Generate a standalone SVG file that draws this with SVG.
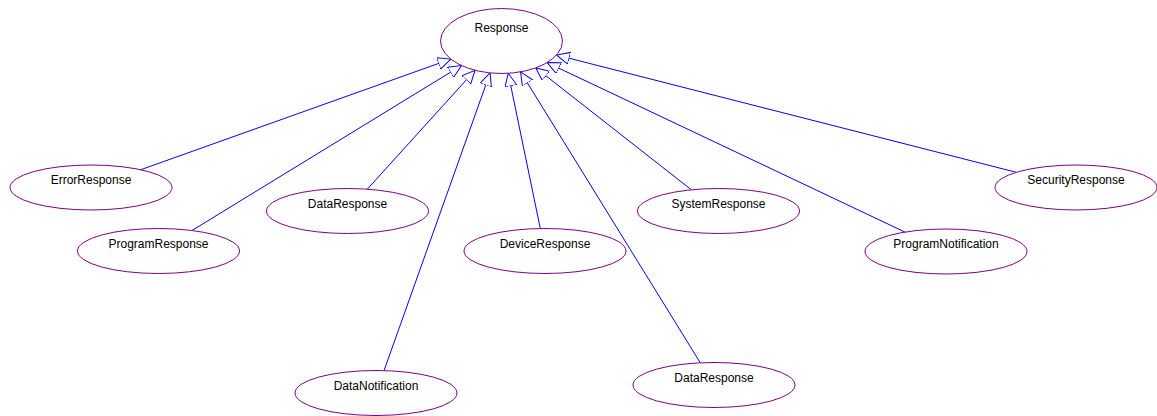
<svg xmlns="http://www.w3.org/2000/svg" width="1157" height="416" viewBox="0 0 1157 416">
  <style>
    .node ellipse { fill: #ffffff; stroke: #800080; stroke-width: 1; }
    .node text { font-family: "Liberation Sans", Arial, sans-serif; font-size: 12px; fill: #000000; text-anchor: middle; }
    .edges line { stroke: #0000ff; stroke-width: 1; marker-end: url(#inherit); }
  </style>
  <defs>
    <!-- hollow triangle: generalisation arrowhead -->
    <marker id="inherit" markerUnits="userSpaceOnUse" markerWidth="16" markerHeight="14" refX="13" refY="6" orient="auto">
      <path d="M0,0 L13,6 L0,12 Z" fill="#ffffff" stroke="#0000ff" stroke-width="1"/>
    </marker>
  </defs>

  <rect width="1157" height="416" fill="#ffffff"/>

  <g id="edges" class="edges">
    <line x1="140.8" y1="169.7" x2="450.8" y2="59.1"/>
    <line x1="192" y1="230.5" x2="461.5" y2="65.5"/>
    <line x1="367.3" y1="189.2" x2="475" y2="70.3"/>
    <line x1="384" y1="370.6" x2="490.1" y2="72.9"/>
    <line x1="540.3" y1="228.5" x2="508.2" y2="73.3"/>
    <line x1="700.3" y1="362.8" x2="520.6" y2="71.9"/>
    <line x1="691.4" y1="189.8" x2="535.8" y2="67.9"/>
    <line x1="905" y1="232.1" x2="547.1" y2="62.6"/>
    <line x1="1016.3" y1="172.3" x2="556.5" y2="55"/>
  </g>

  <g id="response" class="node">
    <ellipse cx="501.5" cy="41" rx="61" ry="32.5"/>
    <text x="501.5" y="31.5">Response</text>
  </g>
  <g id="errorResponse" class="node">
    <ellipse cx="91" cy="187.5" rx="81" ry="22.5"/>
    <text x="91" y="184">ErrorResponse</text>
  </g>
  <g id="programResponse" class="node">
    <ellipse cx="158.5" cy="251" rx="81" ry="22.5"/>
    <text x="158.5" y="247.5">ProgramResponse</text>
  </g>
  <g id="dataResponse1" class="node">
    <ellipse cx="347.5" cy="211" rx="81" ry="22.5"/>
    <text x="347.5" y="207.5">DataResponse</text>
  </g>
  <g id="dataNotification" class="node">
    <ellipse cx="376" cy="393" rx="81" ry="22.5"/>
    <text x="376" y="389.5">DataNotification</text>
  </g>
  <g id="deviceResponse" class="node">
    <ellipse cx="545" cy="251" rx="81" ry="22.5"/>
    <text x="545" y="247.5">DeviceResponse</text>
  </g>
  <g id="dataResponse2" class="node">
    <ellipse cx="714" cy="385" rx="81" ry="22.5"/>
    <text x="714" y="381.5">DataResponse</text>
  </g>
  <g id="systemResponse" class="node">
    <ellipse cx="718.5" cy="211" rx="81" ry="22.5"/>
    <text x="718.5" y="207.5">SystemResponse</text>
  </g>
  <g id="programNotification" class="node">
    <ellipse cx="946" cy="251.5" rx="81" ry="22.5"/>
    <text x="946" y="248">ProgramNotification</text>
  </g>
  <g id="securityResponse" class="node">
    <ellipse cx="1076" cy="187.5" rx="81" ry="22.5"/>
    <text x="1076" y="184">SecurityResponse</text>
  </g>
</svg>
